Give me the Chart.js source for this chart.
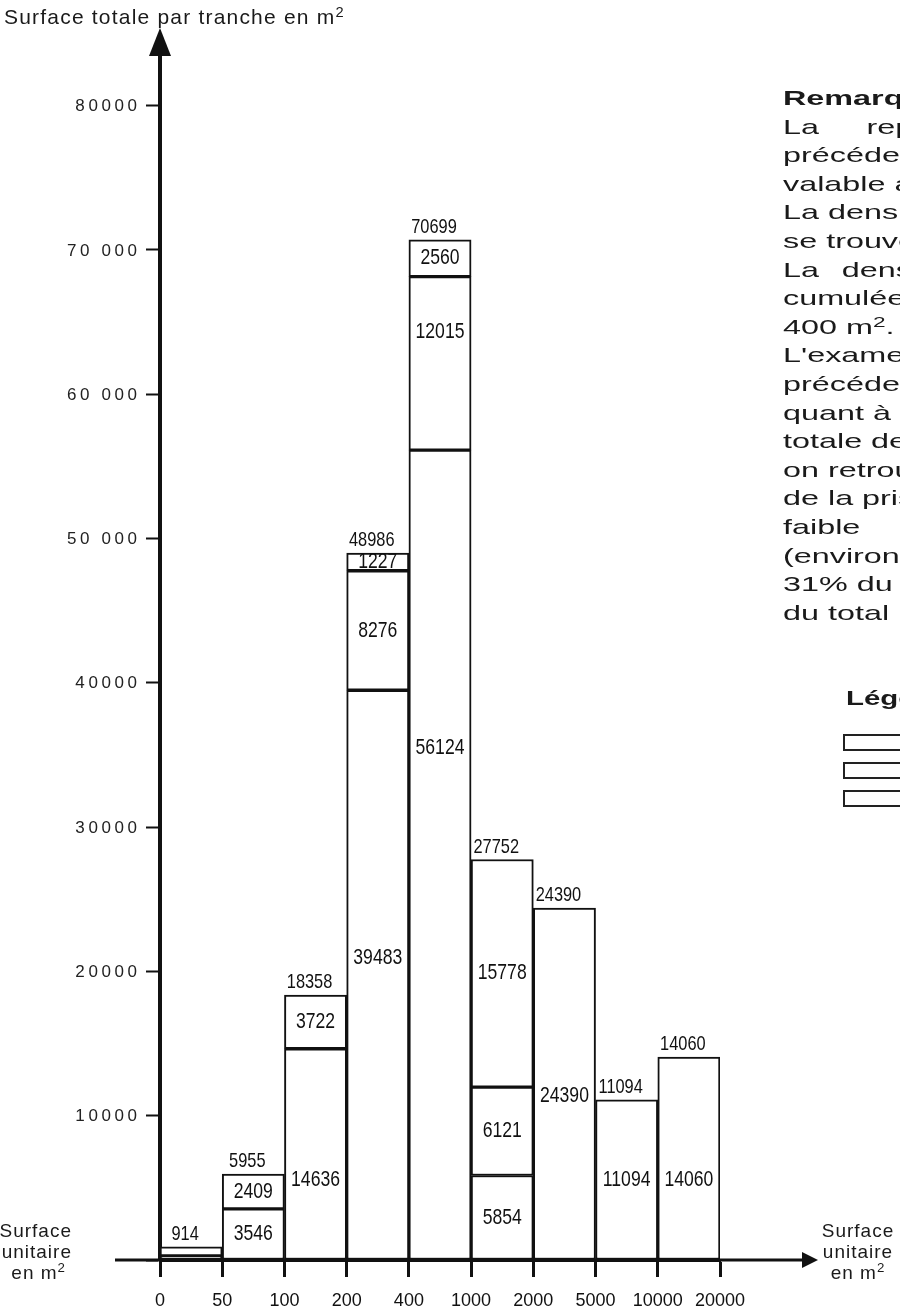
<!DOCTYPE html>
<html><head><meta charset="utf-8">
<script src="https://cdn.jsdelivr.net/npm/chart.js@4.4.0/dist/chart.umd.min.js"></script>
<style>
html,body{margin:0;padding:0;background:#fff;overflow:hidden;width:900px;height:1315px;position:relative;}
#wrap{position:absolute;left:0;top:0;width:900px;height:1315px;}
.t{position:absolute;font-family:"Liberation Sans",Arial,Helvetica,sans-serif;color:#1a1a1a;white-space:nowrap;}
sup{font-size:70%;vertical-align:0.5em;line-height:0;}
.rt{left:783px;font-size:21px;line-height:28.6px;transform:scaleX(1.54);transform-origin:0 0;}
.box{position:absolute;left:843px;width:70px;height:13px;border:2px solid #222;background:#fff;}
</style></head><body>
<div id="wrap"><canvas id="c" width="900" height="1315"></canvas></div>

<div class="t" style="left:4px;top:5px;font-size:21px;letter-spacing:1.2px">Surface totale par tranche en m<sup>2</sup></div>

<div class="t rt" style="top:84px">
<b>Remarque :</b><br>
<span style="word-spacing:25px">La représentation</span><br>
précédente<br>
valable aussi<br>
La densité la plus<br>
se trouve dans<br>
<span style="word-spacing:9px">La densité</span><br>
cumulée des<br>
400 m<sup>2</sup>.<br>
L'examen des<br>
précédents<br>
quant à la<br>
totale des<br>
on retrouve<br>
de la prise<br>
faible<br>
(environ<br>
31% du<br>
du total
</div>

<div class="t" style="left:846px;top:686px;font-size:21px;font-weight:bold;transform:scaleX(1.4);transform-origin:0 0">Légende</div>
<div class="box" style="top:734px"></div>
<div class="box" style="top:762px"></div>
<div class="box" style="top:790px"></div>

<div class="t" style="left:-70px;width:142px;top:1220px;font-size:19px;letter-spacing:1px;line-height:21px;text-align:right">Surface<br>unitaire<br><span style="padding-right:6px">en m<sup>2</sup></span></div>
<div class="t" style="left:803px;width:110px;top:1220px;font-size:19px;letter-spacing:1px;line-height:21px;text-align:center">Surface<br>unitaire<br>en m<sup>2</sup></div>

<script>
// ---- data ----
const categories = ["0–50", "50–100", "100–200", "200–400", "400–1000", "1000–2000", "2000–5000", "5000–10000", "10000–20000"];
const boundaryLabels = ["0", "50", "100", "200", "400", "1000", "2000", "5000", "10000", "20000"];
const seriesA = [280, 3546, 14636, 39483, 56124, 5854, 24390, 11094, 14060];
const seriesB = [634, 2409, 3722, 8276, 12015, 6121, null, null, null];
const seriesC = [null, null, null, 1227, 2560, 15778, null, null, null];
const totals = [914, 5955, 18358, 48986, 70699, 27752, 24390, 11094, 14060];
const yTickValues = [10000, 20000, 30000, 40000, 50000, 60000, 70000, 80000];
const yTickText = ["10000", "20000", "30000", "40000", "50 000", "60 000", "70 000", "80000"];

const FONT = '"Liberation Sans", Arial, Helvetica, sans-serif';
const INK = '#111';

// label placement (in data units) for some segments; null = centred
const labelOpts = {
  anchorA: [null, null, 5540, 20930, 35480, null, 11370, 5540, 5540],
  anchorB: [null, null, null, null, 64300, null, null, null, null],
  hideA: [true, false, false, false, false, false, false, false, false],
  hideB: [true, false, false, false, false, false, false, false, false]
};

function drawTxt(ctx, t, x, y, size, sx, baseline) {
  ctx.save();
  ctx.translate(x, y);
  ctx.scale(sx, 1);
  ctx.font = size + 'px ' + FONT;
  ctx.textAlign = 'center';
  ctx.textBaseline = baseline || 'middle';
  ctx.fillStyle = INK;
  ctx.fillText(t, 0, 0);
  ctx.restore();
}

// wide-set text drawn char by char, right edge at xRight
function drawSpaced(ctx, t, xRight, y, gap) {
  const chars = Array.from(t);
  const widths = chars.map((ch) => ctx.measureText(ch).width);
  const total = widths.reduce((s, w) => s + w, 0) + gap * (chars.length - 1);
  let x = xRight - total;
  chars.forEach((ch, i) => {
    ctx.fillText(ch, x, y);
    x += widths[i] + gap;
  });
}

const labelPlugin = {
  id: 'segLabels',
  afterDatasetsDraw(chart) {
    const ctx = chart.ctx;
    const ys = chart.scales.y;
    ctx.save();
    chart.data.datasets.forEach((ds, di) => {
      const meta = chart.getDatasetMeta(di);
      meta.data.forEach((bar, i) => {
        const v = ds.data[i];
        if (v == null) return;
        if (di === 0 && labelOpts.hideA[i]) return;
        if (di === 1 && labelOpts.hideB[i]) return;
        let yy = (bar.y + bar.base) / 2;
        if (di === 0 && labelOpts.anchorA[i] != null) yy = ys.getPixelForValue(labelOpts.anchorA[i]);
        if (di === 1 && labelOpts.anchorB[i] != null) yy = ys.getPixelForValue(labelOpts.anchorB[i]);
        drawTxt(ctx, String(v), bar.x, yy, 22, 0.8);
      });
    });
    const m0 = chart.getDatasetMeta(0);
    totals.forEach((t, i) => {
      const bar = m0.data[i];
      drawTxt(ctx, String(t), bar.x - 6, ys.getPixelForValue(t) - 2, 21, 0.78, 'bottom');
    });
    ctx.restore();
  },
  afterDraw(chart) {
    const ctx = chart.ctx;
    const a = chart.chartArea;
    const ys = chart.scales.y;
    ctx.save();
    // y tick labels from the scale's own ticks
    ctx.font = '17px ' + FONT;
    ctx.textAlign = 'left';
    ctx.textBaseline = 'middle';
    ctx.fillStyle = '#222';
    ys.ticks.forEach((t) => {
      const k = yTickValues.indexOf(t.value);
      if (k < 0) return;
      drawSpaced(ctx, yTickText[k], a.left - 23, ys.getPixelForValue(t.value) + 1, 3.6);
    });
    ctx.fillStyle = INK;
    ctx.strokeStyle = INK;
    // y arrow head
    ctx.beginPath();
    ctx.moveTo(a.left, a.top - 27);
    ctx.lineTo(a.left - 11, a.top + 1);
    ctx.lineTo(a.left + 11, a.top + 1);
    ctx.closePath();
    ctx.fill();
    // x axis extension + arrow head
    ctx.lineWidth = 3;
    ctx.beginPath();
    ctx.moveTo(a.left - 45, a.bottom);
    ctx.lineTo(a.right + 85, a.bottom);
    ctx.stroke();
    ctx.beginPath();
    ctx.moveTo(a.right + 98, a.bottom);
    ctx.lineTo(a.right + 82, a.bottom - 8);
    ctx.lineTo(a.right + 82, a.bottom + 8);
    ctx.closePath();
    ctx.fill();
    ctx.restore();
  }
};

const barStyle = { backgroundColor: '#fff', borderColor: INK, borderWidth: 2, borderSkipped: false, barPercentage: 1, categoryPercentage: 1 };

new Chart(document.getElementById('c'), {
  type: 'bar',
  data: {
    labels: categories,
    datasets: [
      Object.assign({ label: 'A', data: seriesA }, barStyle),
      Object.assign({ label: 'B', data: seriesB }, barStyle),
      Object.assign({ label: 'C', data: seriesC }, barStyle)
    ]
  },
  options: {
    responsive: false,
    animation: false,
    layout: { padding: { left: 0, right: 180, top: 55, bottom: 0 } },
    plugins: { legend: { display: false }, tooltip: { enabled: false } },
    scales: {
      x: { stacked: true, display: false },
      xb: {
        type: 'linear', position: 'bottom', min: 0, max: 9, offset: false,
        afterFit(s) { s.height = 55; },
        afterBuildTicks(s) { s.ticks = boundaryLabels.map((_, i) => ({ value: i })); },
        ticks: {
          autoSkip: false, maxRotation: 0, padding: 13,
          color: INK, font: { family: FONT, size: 18 },
          callback: (v) => (boundaryLabels[v] !== undefined ? boundaryLabels[v] : '')
        },
        grid: { offset: false, drawOnChartArea: false, drawTicks: true, tickLength: 17, tickWidth: 3, color: INK },
        border: { display: true, width: 3, color: INK }
      },
      y: {
        stacked: true, position: 'left', min: 0, max: 83500,
        afterFit(s) { s.width = 160; },
        afterBuildTicks(s) { s.ticks = [0].concat(yTickValues).map((v) => ({ value: v })); },
        ticks: { display: false },
        grid: { drawOnChartArea: false, drawTicks: true, tickLength: 14, tickWidth: 2, color: INK },
        border: { display: true, width: 4, color: INK }
      }
    }
  },
  plugins: [labelPlugin]
});
</script>
</body></html>
